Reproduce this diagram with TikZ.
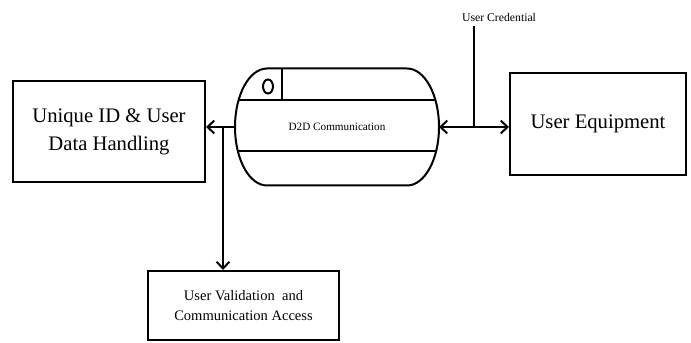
\documentclass[tikz,border=0pt]{standalone}
\usepackage{fontspec}
\setmainfont{Liberation Serif}
\usetikzlibrary{arrows.meta,positioning,calc}

\begin{document}
\begin{tikzpicture}[
    x=0.75pt, y=0.75pt,
    >={Straight Barb[length=1.8mm,width=3.4mm]},
    box/.style={draw, line width=1.5pt, inner sep=0pt, align=center},
    bigtxt/.style={font=\fontsize{15.5}{21}\selectfont},
    smalltxt/.style={font=\fontsize{10.9}{14.3}\selectfont},
    lbl/.style={font=\fontsize{8.8}{10}\selectfont},
    wire/.style={line width=1.5pt},
  ]
  \useasboundingbox (0,0) rectangle (691,342);

  % ---------------- data store (pill)
  \node[inner sep=0pt, outer sep=0pt, minimum width=153pt, minimum height=87.75pt,
        font=\fontsize{8.4}{10}\selectfont] (d2d) at (337,215) {D2D Communication};
  \begin{scope}
    \clip ($(d2d.north west)+(32,0)$) -- ($(d2d.north east)+(-32,0)$)
         arc[start angle=90, end angle=-90, x radius=32, y radius=58.5]
         -- ($(d2d.south west)+(32,0)$)
         arc[start angle=270, end angle=90, x radius=32, y radius=58.5] -- cycle;
    \draw[wire] ($(d2d.north west)+(0,-32)$) -- ($(d2d.north east)+(0,-32)$);
    \draw[wire] ($(d2d.south west)+(0,34)$) -- ($(d2d.south east)+(0,34)$);
  \end{scope}
  \draw[wire] ($(d2d.north west)+(47,0)$) -- ++(0,-32);
  \draw[wire] ($(d2d.north west)+(33,-18)$) ellipse[x radius=5, y radius=7];
  \draw[wire] ($(d2d.north west)+(32,0)$) -- ($(d2d.north east)+(-32,0)$)
       arc[start angle=90, end angle=-90, x radius=32, y radius=58.5]
       -- ($(d2d.south west)+(32,0)$)
       arc[start angle=270, end angle=90, x radius=32, y radius=58.5] -- cycle;

  % ---------------- entities
  \node[box, bigtxt, minimum width=144pt, minimum height=75.75pt] (uid) at (109,210.5)
       {Unique ID \& User\\Data Handling};
  \node[box, bigtxt, minimum width=132pt, minimum height=76.5pt] (ue) at (598,218)
       {User Equipment};
  \node[box, smalltxt, minimum width=143.25pt, minimum height=51.75pt] (uva) at (243.5,36.5)
       {User Validation\ \ and\\Communication Access};

  % ---------------- flows
  \draw[->,wire] (d2d.west) -- (d2d.west -| uid.east);
  \coordinate (tap) at (223,215);
  \draw[->,wire] (tap) -- (tap |- uva.north);
  \draw[<->,wire] (d2d.east) -- (d2d.east -| ue.west);

  \node[lbl] (cred) at (499,325) {User Credential};
  \coordinate (credtop) at (474,316);
  \draw[wire] (credtop) -- (credtop |- d2d.east);
\end{tikzpicture}
\end{document}
